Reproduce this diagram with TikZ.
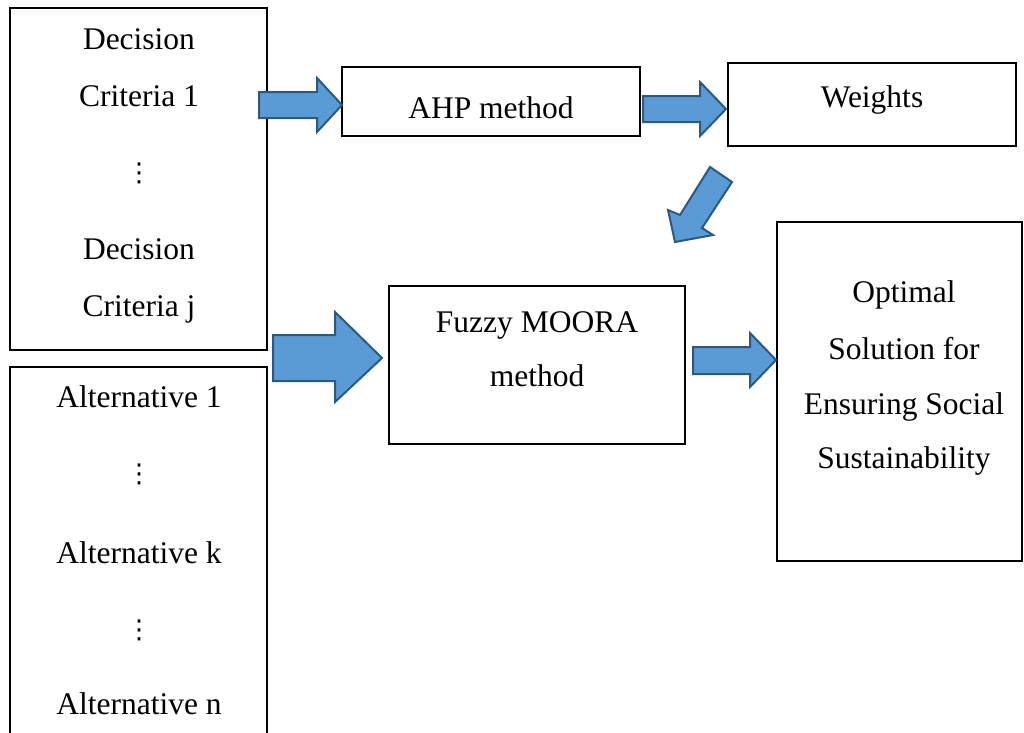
\documentclass[tikz,border=0pt]{standalone}
\usepackage{fontspec}
\setmainfont{Liberation Serif}
\newfontfamily\symfont{DejaVu Sans}
\begin{document}
\begin{tikzpicture}[x=1pt,y=-1pt,
  box/.style={draw=black,line width=2.2pt},
  label/.style={font=\fontsize{31.5}{31.5}\selectfont,inner sep=0pt,anchor=base},
  dots/.style={font=\symfont\fontsize{26}{26}\selectfont,inner sep=0pt,anchor=center},
  blockarrow/.style={fill={rgb,255:red,91;green,155;blue,213},draw={rgb,255:red,44;green,88;blue,132},line width=2pt,line join=miter}]
\useasboundingbox (0,0) rectangle (1024,732);
\clip (0,0) rectangle (1024,732);

% boxes
\draw[box] (10,8) rectangle (267,350);
\draw[box] (10,740) -- (10,367) -- (267,367) -- (267,740);
\draw[box] (342,67) rectangle (640,136);
\draw[box] (728,63) rectangle (1016,146);
\draw[box] (389,286) rectangle (685,444);
\draw[box] (777,222) rectangle (1022,561);

% criteria
\node[label] (c1a) at (139,49) {Decision};
\node[label] (c1b) at (139,106) {Criteria 1};
\node[dots] (cdots) at (139,173) {⋮};
\node[label] (cja) at (139,259) {Decision};
\node[label] (cjb) at (139,316) {Criteria j};

% alternatives
\node[label] (a1) at (139,407) {Alternative 1};
\node[dots] (adots1) at (139,474) {⋮};
\node[label] (ak) at (139,563) {Alternative k};
\node[dots] (adots2) at (139,630) {⋮};
\node[label] (an) at (139,714) {Alternative n};

% methods and results
\node[label] (ahp) at (491,118) {AHP method};
\node[label] (wts) at (872,107) {Weights};
\node[label] (fm1) at (537,332) {Fuzzy MOORA};
\node[label] (fm2) at (537,386) {method};
\node[label] (op1) at (904,302) {Optimal};
\node[label] (op2) at (904,359) {Solution for};
\node[label] (op3) at (904,414) {Ensuring Social};
\node[label] (op4) at (904,468) {Sustainability};

% block arrows
\draw[blockarrow] (259,92) -- (317,92) -- (317,78) -- (342,105) -- (317,132) -- (317,118) -- (259,118) -- cycle;
\draw[blockarrow] (643,96) -- (700,96) -- (700,82) -- (726,109) -- (700,136) -- (700,122) -- (643,122) -- cycle;
\draw[blockarrow] (710,167) -- (680,215) -- (668,210) -- (675,242) -- (713,235) -- (702,228) -- (732,182) -- cycle;
\draw[blockarrow] (273,335) -- (335,335) -- (335,312) -- (382,358) -- (335,402) -- (335,381) -- (273,381) -- cycle;
\draw[blockarrow] (693,347) -- (750,347) -- (750,333) -- (776,360) -- (750,387) -- (750,374) -- (693,374) -- cycle;
\end{tikzpicture}
\end{document}
